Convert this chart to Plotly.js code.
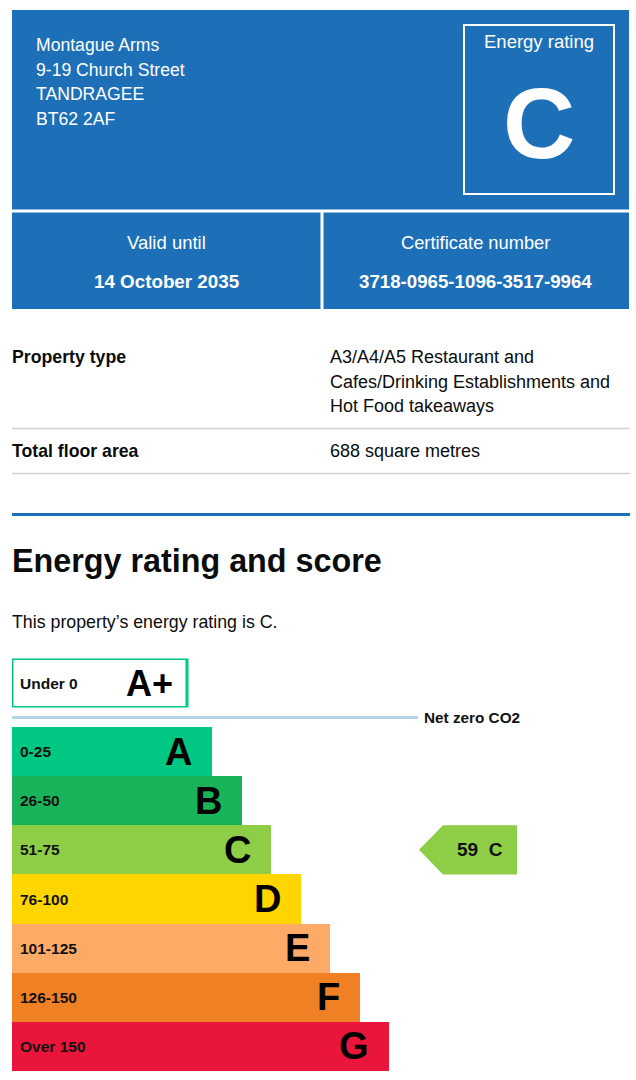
<!DOCTYPE html>
<html><head><meta charset="utf-8">
<script src="https://cdn.plot.ly/plotly-3.0.1.min.js"></script>
<style>html,body{margin:0;padding:0;background:#fff;overflow:hidden;} #chart{width:636px;height:1080px;}</style>
</head><body><div id="chart"></div>
<script>
// ---- data ----
const bands = ['A','B','C','D','E','F','G'];
const bandRanges = ['0-25','26-50','51-75','76-100','101-125','126-150','Over 150'];
const bandLengths = [200, 230, 259, 289, 318, 348, 377];
const bandColors = ['#00c781','#19b459','#8dce46','#ffd500','#fcaa65','#ef8023','#e9153b'];
const topBand = 'A+';
const topBandRange = 'Under 0';
const topBandLength = 175;
const topBandColor = '#00c781';
const currentRating = 'C';
const currentScore = 59;
const addressLines = ['Montague Arms','9-19 Church Street','TANDRAGEE','BT62 2AF'];
const validUntil = '14 October 2035';
const certificateNumber = '3718-0965-1096-3517-9964';
const propertyTypeLines = ['A3/A4/A5 Restaurant and','Cafes/Drinking Establishments and','Hot Food takeaways'];
const floorArea = '688 square metres';

// ---- layout helpers ----
const W = 636, H = 1080;
const px = x => x / W;
const py = y => 1 - y / H;
const FONT = 'Liberation Sans, Arial, sans-serif';
const BLUE = '#1d70b8';
const INK = '#0b0c0c';

function txt(text, x, y, size, opts) {
  opts = opts || {};
  return Object.assign({
    text: text, xref: 'paper', yref: 'paper', x: px(x), y: py(y),
    xanchor: 'left', yanchor: 'middle', showarrow: false,
    font: {family: FONT, size: size, color: opts.color || INK, weight: opts.bold ? 'bold' : 'normal'}
  }, opts.extra || {});
}

const annotations = [];
const shapes = [];

// header blue panel
shapes.push({type:'rect', xref:'paper', yref:'paper', x0:px(12), x1:px(629), y0:py(10), y1:py(309), fillcolor:BLUE, line:{width:0}, layer:'below'});
shapes.push({type:'line', xref:'paper', yref:'paper', x0:px(12), x1:px(629), y0:py(211), y1:py(211), line:{color:'#ffffff', width:3}});
shapes.push({type:'line', xref:'paper', yref:'paper', x0:px(322), x1:px(322), y0:py(211), y1:py(309), line:{color:'#ffffff', width:3}});
shapes.push({type:'rect', xref:'paper', yref:'paper', x0:px(464), x1:px(614), y0:py(25), y1:py(194), line:{color:'#ffffff', width:2}, fillcolor:'rgba(0,0,0,0)'});

addressLines.forEach((l, i) => annotations.push(txt(l, 33.5, 45 + 24.5 * i, 17.6, {color:'#ffffff'})));
annotations.push(txt('Energy rating', 539, 42, 18.5, {color:'#ffffff', extra:{xanchor:'center'}}));
annotations.push(txt(currentRating, 539, 123, 100, {color:'#ffffff', bold:true, extra:{xanchor:'center'}}));
annotations.push(txt('Valid until', 166, 242, 18.5, {color:'#ffffff', extra:{xanchor:'center'}}));
annotations.push(txt(validUntil, 166, 282, 18.8, {color:'#ffffff', bold:true, extra:{xanchor:'center'}}));
annotations.push(txt('Certificate number', 476, 242, 18.3, {color:'#ffffff', extra:{xanchor:'center'}}));
annotations.push(txt(certificateNumber, 476, 282, 18.7, {color:'#ffffff', bold:true, extra:{xanchor:'center'}}));

// property table
annotations.push(txt('Property type', 10, 357, 17.7, {bold:true}));
propertyTypeLines.forEach((l, i) => annotations.push(txt(l, 328, 357 + 24.7 * i, 18)));
shapes.push({type:'line', xref:'paper', yref:'paper', x0:px(12), x1:px(630), y0:py(428.5), y1:py(428.5), line:{color:'#cfd1d3', width:1.5}});
annotations.push(txt('Total floor area', 10, 451, 17.7, {bold:true}));
annotations.push(txt(floorArea, 328, 451, 18));
shapes.push({type:'line', xref:'paper', yref:'paper', x0:px(12), x1:px(630), y0:py(473.5), y1:py(473.5), line:{color:'#cfd1d3', width:1.5}});
shapes.push({type:'line', xref:'paper', yref:'paper', x0:px(12), x1:px(630), y0:py(514.5), y1:py(514.5), line:{color:BLUE, width:3}});

annotations.push(txt('Energy rating and score', 10, 561, 32.3, {bold:true}));
annotations.push(txt('This property\u2019s energy rating is ' + currentRating + '.', 10, 622, 17.8));

// ---- chart ----
const ci = bands.indexOf(currentRating);

bands.forEach((b, i) => {
  annotations.push({text: bandRanges[i], xref:'x', yref:'y', x:0, y:b, xshift:6, xanchor:'left', yanchor:'middle', showarrow:false,
    font:{family:FONT, size:15.5, color:'#111', weight:'bold'}});
  annotations.push({text: b, xref:'x', yref:'y', x:bandLengths[i], y:b, xshift:-18, xanchor:'right', yanchor:'middle', showarrow:false,
    font:{family:FONT, size:38, color:'#000', weight:'bold'}});
});
annotations.push({text: topBandRange, xref:'x', yref:'y2', x:0, y:topBand, xshift:6, xanchor:'left', yanchor:'middle', showarrow:false,
  font:{family:FONT, size:15.5, color:'#111', weight:'bold'}});
annotations.push({text: topBand, xref:'x', yref:'y2', x:topBandLength, y:topBand, xshift:-12, xanchor:'right', yanchor:'middle', showarrow:false,
  font:{family:FONT, size:36, color:'#000', weight:'bold'}});

// net zero line
shapes.push({type:'line', xref:'x', yref:'paper', x0:0, x1:406, y0:py(717.5), y1:py(717.5), line:{color:'#b3d4e2', width:3}});
annotations.push({text:'Net zero CO2', xref:'x', yref:'paper', x:410, y:py(717), xanchor:'left', yanchor:'middle', showarrow:false,
  font:{family:FONT, size:15.3, color:'#111', weight:'bold'}});

// current rating arrow
shapes.push({type:'path', xref:'x', yref:'y',
  path: `M 431,${ci-0.5} L 505,${ci-0.5} L 505,${ci+0.5} L 431,${ci+0.5} L 407,${ci} Z`,
  fillcolor: bandColors[ci], line:{width:0}});
annotations.push({text: currentScore + '\u00a0\u00a0' + currentRating, xref:'x', yref:'y', x:468, y:currentRating, xanchor:'center', yanchor:'middle', showarrow:false,
  font:{family:FONT, size:19, color:'#111', weight:'bold'}});

const data = [
  {type:'bar', orientation:'h', x:bandLengths, y:bands, xaxis:'x', yaxis:'y',
   marker:{color:bandColors, line:{width:0}}, hoverinfo:'none'},
  {type:'bar', orientation:'h', x:[topBandLength], y:[topBand], xaxis:'x', yaxis:'y2',
   marker:{color:'#ffffff', line:{color:topBandColor, width:3}}, hoverinfo:'none'}
];

const layout = {
  width: W, height: H, margin:{l:0, r:0, t:0, b:0},
  paper_bgcolor:'#ffffff', plot_bgcolor:'rgba(0,0,0,0)', showlegend:false,
  bargap: 0,
  xaxis:{domain:[px(12), 1], range:[0, 624], visible:false, fixedrange:true},
  yaxis:{domain:[py(1071), py(727)], type:'category', categoryarray:bands, categoryorder:'array', range:[6.5, -0.5], visible:false, fixedrange:true},
  yaxis2:{domain:[py(707.5), py(658.5)], type:'category', range:[-0.5, 0.5], visible:false, fixedrange:true},
  shapes: shapes,
  annotations: annotations
};

Plotly.newPlot('chart', data, layout, {staticPlot:true, displayModeBar:false});
</script>
</body></html>
